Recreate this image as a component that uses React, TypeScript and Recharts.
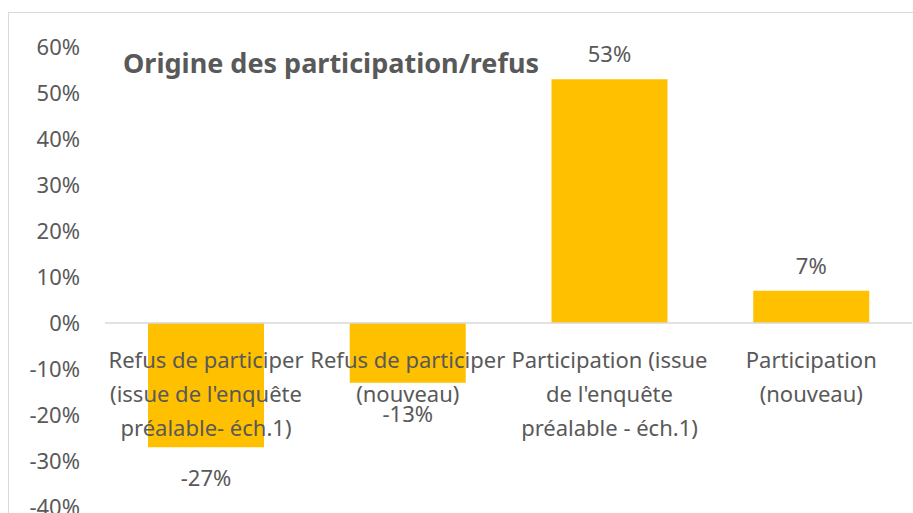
import { BarChart, Bar, XAxis, YAxis, ReferenceLine, LabelList } from "recharts";

const categories = [
  "Refus de participer\n(issue de l'enquête\npréalable- éch.1)",
  "Refus de participer\n(nouveau)",
  "Participation (issue\nde l'enquête\npréalable - éch.1)",
  "Participation\n(nouveau)",
];
const values = [-27, -13, 53, 7];
const yTicks = [-40, -30, -20, -10, 0, 10, 20, 30, 40, 50, 60];

const data = categories.map((name, i) => ({ name, value: values[i] }));

const GREY = "#595959";
const FONT = "'Noto Sans', sans-serif";
const FONT_SIZE = 22;

const boxOf = (props: any) => props.viewBox || props;

const ValueLabel = (props: any) => {
  const { x, y, width } = boxOf(props);
  const v = Number(props.value);
  const cx = x + width / 2;
  return (
    <text
      x={cx}
      y={v >= 0 ? y - 26 : y + 30}
      textAnchor="middle"
      dominantBaseline="central"
      fill={GREY}
      fontSize={FONT_SIZE}
      fontFamily={FONT}
    >
      {`${v}%`}
    </text>
  );
};

const CategoryLabel = (props: any) => {
  const { x, y, width, height } = boxOf(props);
  const zero = y + height;
  const cx = x + width / 2;
  const lines = String(props.value).split("\n");
  return (
    <text textAnchor="middle" fill={GREY} fontSize={FONT_SIZE} fontFamily={FONT}>
      {lines.map((line, i) => (
        <tspan key={i} x={cx} y={zero + 36 + i * 34} dominantBaseline="central">
          {line}
        </tspan>
      ))}
    </text>
  );
};

export default function App() {
  return (
    <div
      style={{
        position: "fixed",
        left: 0,
        top: 0,
        width: 913,
        height: 513,
        overflow: "hidden",
        background: "#fff",
      }}
    >
      <div
        style={{
          position: "absolute",
          left: 8,
          top: 12,
          width: 1000,
          height: 600,
          border: "1px solid #d9d9d9",
        }}
      />
      <div style={{ position: "absolute", left: 0, top: 0 }}>
        <BarChart
          width={913}
          height={513}
          data={data}
          margin={{ top: 47, right: 1, bottom: 6, left: 0 }}
        >
          <XAxis dataKey="name" hide />
          <YAxis
            type="number"
            domain={[-40, 60]}
            ticks={yTicks}
            interval={0}
            width={105}
            axisLine={false}
            tickLine={false}
            tickSize={0}
            tickMargin={25}
            tickFormatter={(v) => `${v}%`}
            tick={{ fill: GREY, fontSize: FONT_SIZE, fontFamily: FONT }}
          />
          <ReferenceLine y={0} stroke="#d9d9d9" strokeWidth={1.5} />
          <Bar dataKey="value" fill="#FFC000" barSize={116} isAnimationActive={false}>
            <LabelList dataKey="value" content={ValueLabel} />
            <LabelList dataKey="name" content={CategoryLabel} />
          </Bar>
        </BarChart>
      </div>
      <div
        style={{
          position: "absolute",
          left: 123,
          top: 45,
          fontFamily: FONT,
          fontWeight: "bold",
          fontSize: 27,
          lineHeight: "36px",
          color: GREY,
          whiteSpace: "nowrap",
        }}
      >
        Origine des participation/refus
      </div>
    </div>
  );
}
